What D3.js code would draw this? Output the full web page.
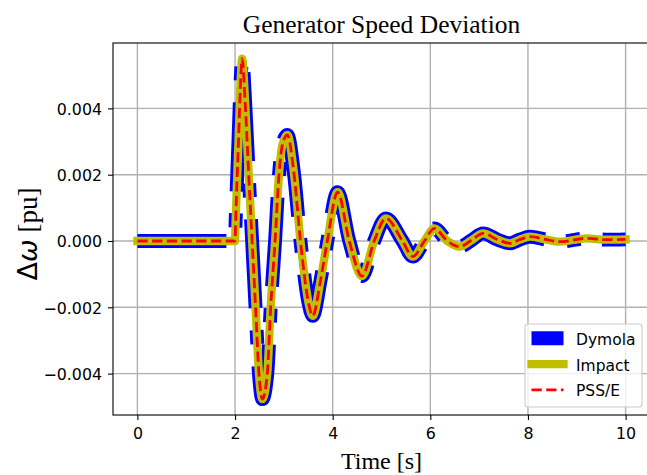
<!DOCTYPE html>
<html lang="en">
<head>
    <meta charset="UTF-8">
    <title>Generator Speed Deviation</title>
    <script src="https://d3js.org/d3.v7.min.js"></script>
    <style>
        body {
            margin: 0;
            padding: 0;
            background: #fff;
        }

        .tick text {
            font-family: 'DejaVu Sans', sans-serif;
            font-size: 15.8px;
            fill: #000;
        }

        .serif {
            font-family: 'Liberation Serif', 'Times New Roman', serif;
            fill: #000;
        }
    </style>
</head>
<body>
    <div id="chart"></div>

    <script>
        // values (all three tools overlap almost exactly)
        const time = [0, 2.0, 2.01, 2.07, 2.12, 2.145, 2.21, 2.28, 2.35, 2.42, 2.49, 2.56,
            2.66, 2.73, 2.82, 2.90, 2.97, 3.07, 3.21, 3.34, 3.51, 3.59, 3.75, 3.89,
            4.10, 4.34, 4.60, 4.85, 5.09, 5.43, 5.64, 5.88, 6.08, 6.35, 6.60, 6.84,
            7.08, 7.38, 7.63, 7.83, 8.04, 8.35, 8.65, 9.2, 9.6, 10];
        const dymola = [0, 0, 0.0005, 0.003, 0.005, 0.0055, 0.0041, 0.002, 0, -0.002, -0.004, -0.00477,
            -0.004, -0.002, 0, 0.002, 0.0029, 0.0032, 0.002, 0, -0.0019, -0.00226, -0.0012, 0,
            0.00147, 0, -0.00106, 0, 0.00068, 0, -0.00047, 0, 0.00038, 0, -0.00017, 0.00002,
            0.00023, 0.00004, -0.00007, 0.00004, 0.00013, 0.00005, -0.00002, 0.00008, 0.00004, 0.00005];
        const impact = dymola.slice();
        const psse = dymola.slice();

        const seriesNames = ['Dymola', 'Impact', 'PSS/E'];
        const xTicks = [0, 2, 4, 6, 8, 10];
        const yTicks = [-0.004, -0.002, 0, 0.002, 0.004];

        const W = 647, H = 475;
        const margin = { top: 43, right: -3, bottom: 60, left: 113 };
        const width = W - margin.left - margin.right,
            height = H - margin.top - margin.bottom;

        const svg = d3.select('#chart')
            .append('svg')
            .attr('width', W)
            .attr('height', H)
            .style('display', 'block');

        const g = svg.append('g')
            .attr('transform', `translate(${margin.left},${margin.top})`);

        const x = d3.scaleLinear().domain([-0.5, 10.5]).range([0, width]);
        const y = d3.scaleLinear().domain([-0.005249, 0.005973]).range([height, 0]);

        // grid
        g.append('g').selectAll('line').data(xTicks).enter().append('line')
            .attr('x1', d => x(d)).attr('x2', d => x(d))
            .attr('y1', 0).attr('y2', height)
            .attr('stroke', '#b0b0b0').attr('stroke-width', 1.4);
        g.append('g').selectAll('line').data(yTicks).enter().append('line')
            .attr('x1', 0).attr('x2', width)
            .attr('y1', d => y(d)).attr('y2', d => y(d))
            .attr('stroke', '#b0b0b0').attr('stroke-width', 1.4);

        // lines
        const rows = name => {
            const v = name === 'Dymola' ? dymola : name === 'Impact' ? impact : psse;
            return time.map((t, i) => [t, v[i]]);
        };
        const line = d3.line()
            .x(d => x(d[0]))
            .y(d => y(d[1]))
            .curve(d3.curveMonotoneX);

        const styles = {
            'Dymola': { color: '#0000ff', w: 13.9, dash: '89,22,14,22', cap: 'butt' },
            'Impact': { color: '#bfbf00', w: 8.3, dash: null, cap: 'square' },
            'PSS/E': { color: '#ff0000', w: 2.8, dash: '10.3,4.4', cap: 'butt' }
        };

        seriesNames.forEach(name => {
            const s = styles[name];
            g.append('path')
                .datum(rows(name))
                .attr('fill', 'none')
                .attr('stroke', s.color)
                .attr('stroke-width', s.w)
                .attr('stroke-linejoin', 'round')
                .attr('stroke-linecap', s.cap)
                .attr('stroke-dasharray', s.dash)
                .attr('d', line);
        });

        // frame
        g.append('rect')
            .attr('width', width).attr('height', height)
            .attr('fill', 'none').attr('stroke', '#000').attr('stroke-width', 1.1);

        // axes
        const xAxis = g.append('g')
            .attr('transform', `translate(0,${height})`)
            .call(d3.axisBottom(x).tickValues(xTicks).tickSize(5).tickPadding(6).tickFormat(d3.format('d')));
        const yAxis = g.append('g')
            .call(d3.axisLeft(y).tickValues(yTicks).tickSize(5).tickPadding(6).tickFormat(d3.format('.3f')));
        [xAxis, yAxis].forEach(a => {
            a.select('.domain').remove();
            a.selectAll('.tick line').attr('stroke', '#000').attr('stroke-width', 1.1);
        });
        xAxis.selectAll('.tick text').attr('dy', '0.85em');
        yAxis.selectAll('.tick text').attr('dy', '0.37em');

        // title and labels
        svg.append('text').attr('class', 'serif')
            .attr('x', margin.left + width / 2).attr('y', 33)
            .attr('text-anchor', 'middle').style('font-size', '25.5px')
            .text('Generator Speed Deviation');

        svg.append('text').attr('class', 'serif')
            .attr('x', margin.left + width / 2).attr('y', 469)
            .attr('text-anchor', 'middle').style('font-size', '24px')
            .text('Time [s]');

        const yl = svg.append('text').attr('class', 'serif')
            .attr('transform', 'translate(37,234) rotate(-90)')
            .attr('text-anchor', 'middle').style('font-size', '27px');
        yl.append('tspan').style('font-family', 'DejaVu Sans').text('\u0394');
        yl.append('tspan').style('font-family', 'DejaVu Sans').style('font-style', 'italic').text('\u03c9');
        yl.append('tspan').text(' [pu]');

        // legend
        const lg = svg.append('g').attr('transform', 'translate(525,324)');
        lg.append('rect')
            .attr('width', 117).attr('height', 83).attr('rx', 3)
            .attr('fill', '#fff').attr('fill-opacity', 0.8)
            .attr('stroke', '#cccccc').attr('stroke-width', 1.1);
        seriesNames.forEach((name, i) => {
            const s = styles[name];
            const cy = 14.3 + i * 25.8;
            lg.append('line')
                .attr('x1', 6.5).attr('x2', 38.5)
                .attr('y1', cy).attr('y2', cy)
                .attr('stroke', s.color)
                .attr('stroke-width', s.w)
                .attr('stroke-linecap', s.cap)
                .attr('stroke-dasharray', s.dash);
            lg.append('text')
                .attr('x', 51).attr('y', cy + 6.5)
                .style('font-family', 'DejaVu Sans')
                .style('font-size', '15.5px')
                .text(name);
        });
    </script>
</body>
</html>
